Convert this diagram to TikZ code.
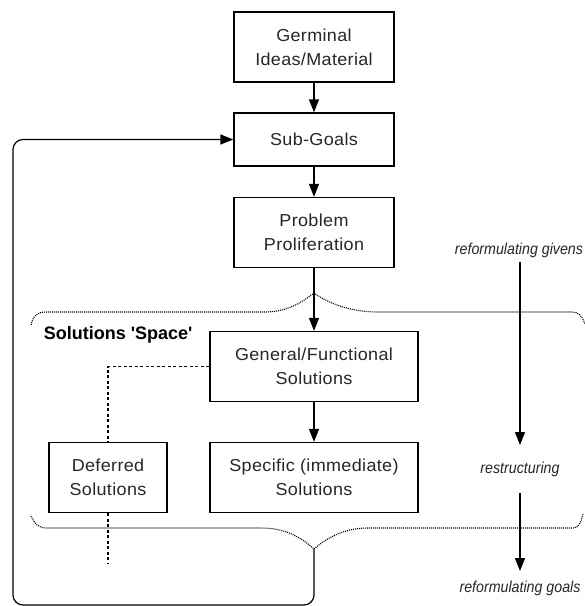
\documentclass[tikz,border=0pt]{standalone}
\usepackage{fontspec}
\setmainfont{Liberation Sans}
\newfontfamily\boxfont[FakeStretch=1.04,LetterSpace=2]{Liberation Sans}
\newfontfamily\notefont[FakeStretch=0.9]{Liberation Sans}
\newfontfamily\spacefont[Ligatures=TeXOff]{Liberation Sans}
\usetikzlibrary{arrows.meta,positioning}

\tikzset{
  block/.style={draw,minimum width=160pt,minimum height=70pt,align=center,
    font=\boxfont\fontsize{17.3}{24}\selectfont,text=black!85},
  wideblock/.style={block,minimum width=208pt},
  note/.style={inner sep=2pt,font=\notefont\itshape\fontsize{15.8}{18}\selectfont,text=black!85},
  brace/.style={line width=1.1pt,dash pattern=on 1pt off 1pt},
  dashline/.style={dash pattern=on 3pt off 2.5pt}
}

\begin{document}
\begin{tikzpicture}[x=1pt,y=-1pt,line width=1.2pt,node distance=93pt,
        >={Triangle[length=13pt,width=10pt]}]
        \useasboundingbox (0,0) rectangle (585,606);

        \node[block]      (germ)  at (314,47)                        {Germinal\\Ideas/Material};
        \node[block,minimum height=53pt] (subg) [below of=germ,node distance=92.5pt] {Sub-Goals};
        \node[block]      (prob)  [below of=subg]                    {Problem\\Proliferation};
        \node[wideblock]  (gen)   [below of=prob,node distance=134pt] {General/Functional\\Solutions};
        \node[wideblock]  (spec)  [below of=gen,node distance=111pt]  {Specific (immediate)\\Solutions};
        \node[block,minimum width=118pt] (defer) [left of=spec,node distance=206pt] {Deferred\\Solutions};

        \node[anchor=west,text=black,font=\spacefont\bfseries\fontsize{18}{20}\selectfont]
                          (space) at (40,335) {Solutions 'Space'};

        \node[note]       (givens) at (519,250) {reformulating givens};
        \node[note]       (restr)  at (520,469) {restructuring};
        \node[note]       (goals)  at (520,588) {reformulating goals};

        \coordinate (bpeak) at (314,549);
        \coordinate (loopc) at (13,605);
        \coordinate (dtail) at (108,563);

        \path[->] (germ) edge (subg)
                  (subg) edge (prob)
                  (prob) edge (gen)
                  (gen)  edge (spec);

        \draw[->,rounded corners=10pt] (bpeak) |- (loopc) |- (subg.west);

        \draw[dashline] (gen.west) -| (defer.north);
        \draw[dashline] (defer.south) -- (dtail);

        \draw[->,shorten <=2pt,shorten >=14pt] (restr.north |- givens.south) -- (restr.north);
        \draw[->,shorten <=14pt,shorten >=7pt] (restr.south) -- (goals.north);

        \draw[brace] (31,325) .. controls (33,316) and (37,312) .. (46,312) -- (265,312)
                     .. controls (290,312) and (306,299) .. (314,293)
                     .. controls (324,300) and (345,312) .. (378,312) -- (572,312)
                     .. controls (579,312) and (582,316) .. (585,324);
        \draw[brace] (31,516) .. controls (35,524) and (38,528) .. (47,528) -- (262,528)
                     .. controls (290,528) and (306,542) .. (bpeak)
                     .. controls (322,542) and (340,528) .. (368,528) -- (573,528)
                     .. controls (579,528) and (581,522) .. (583,514);
      \end{tikzpicture}
\end{document}
